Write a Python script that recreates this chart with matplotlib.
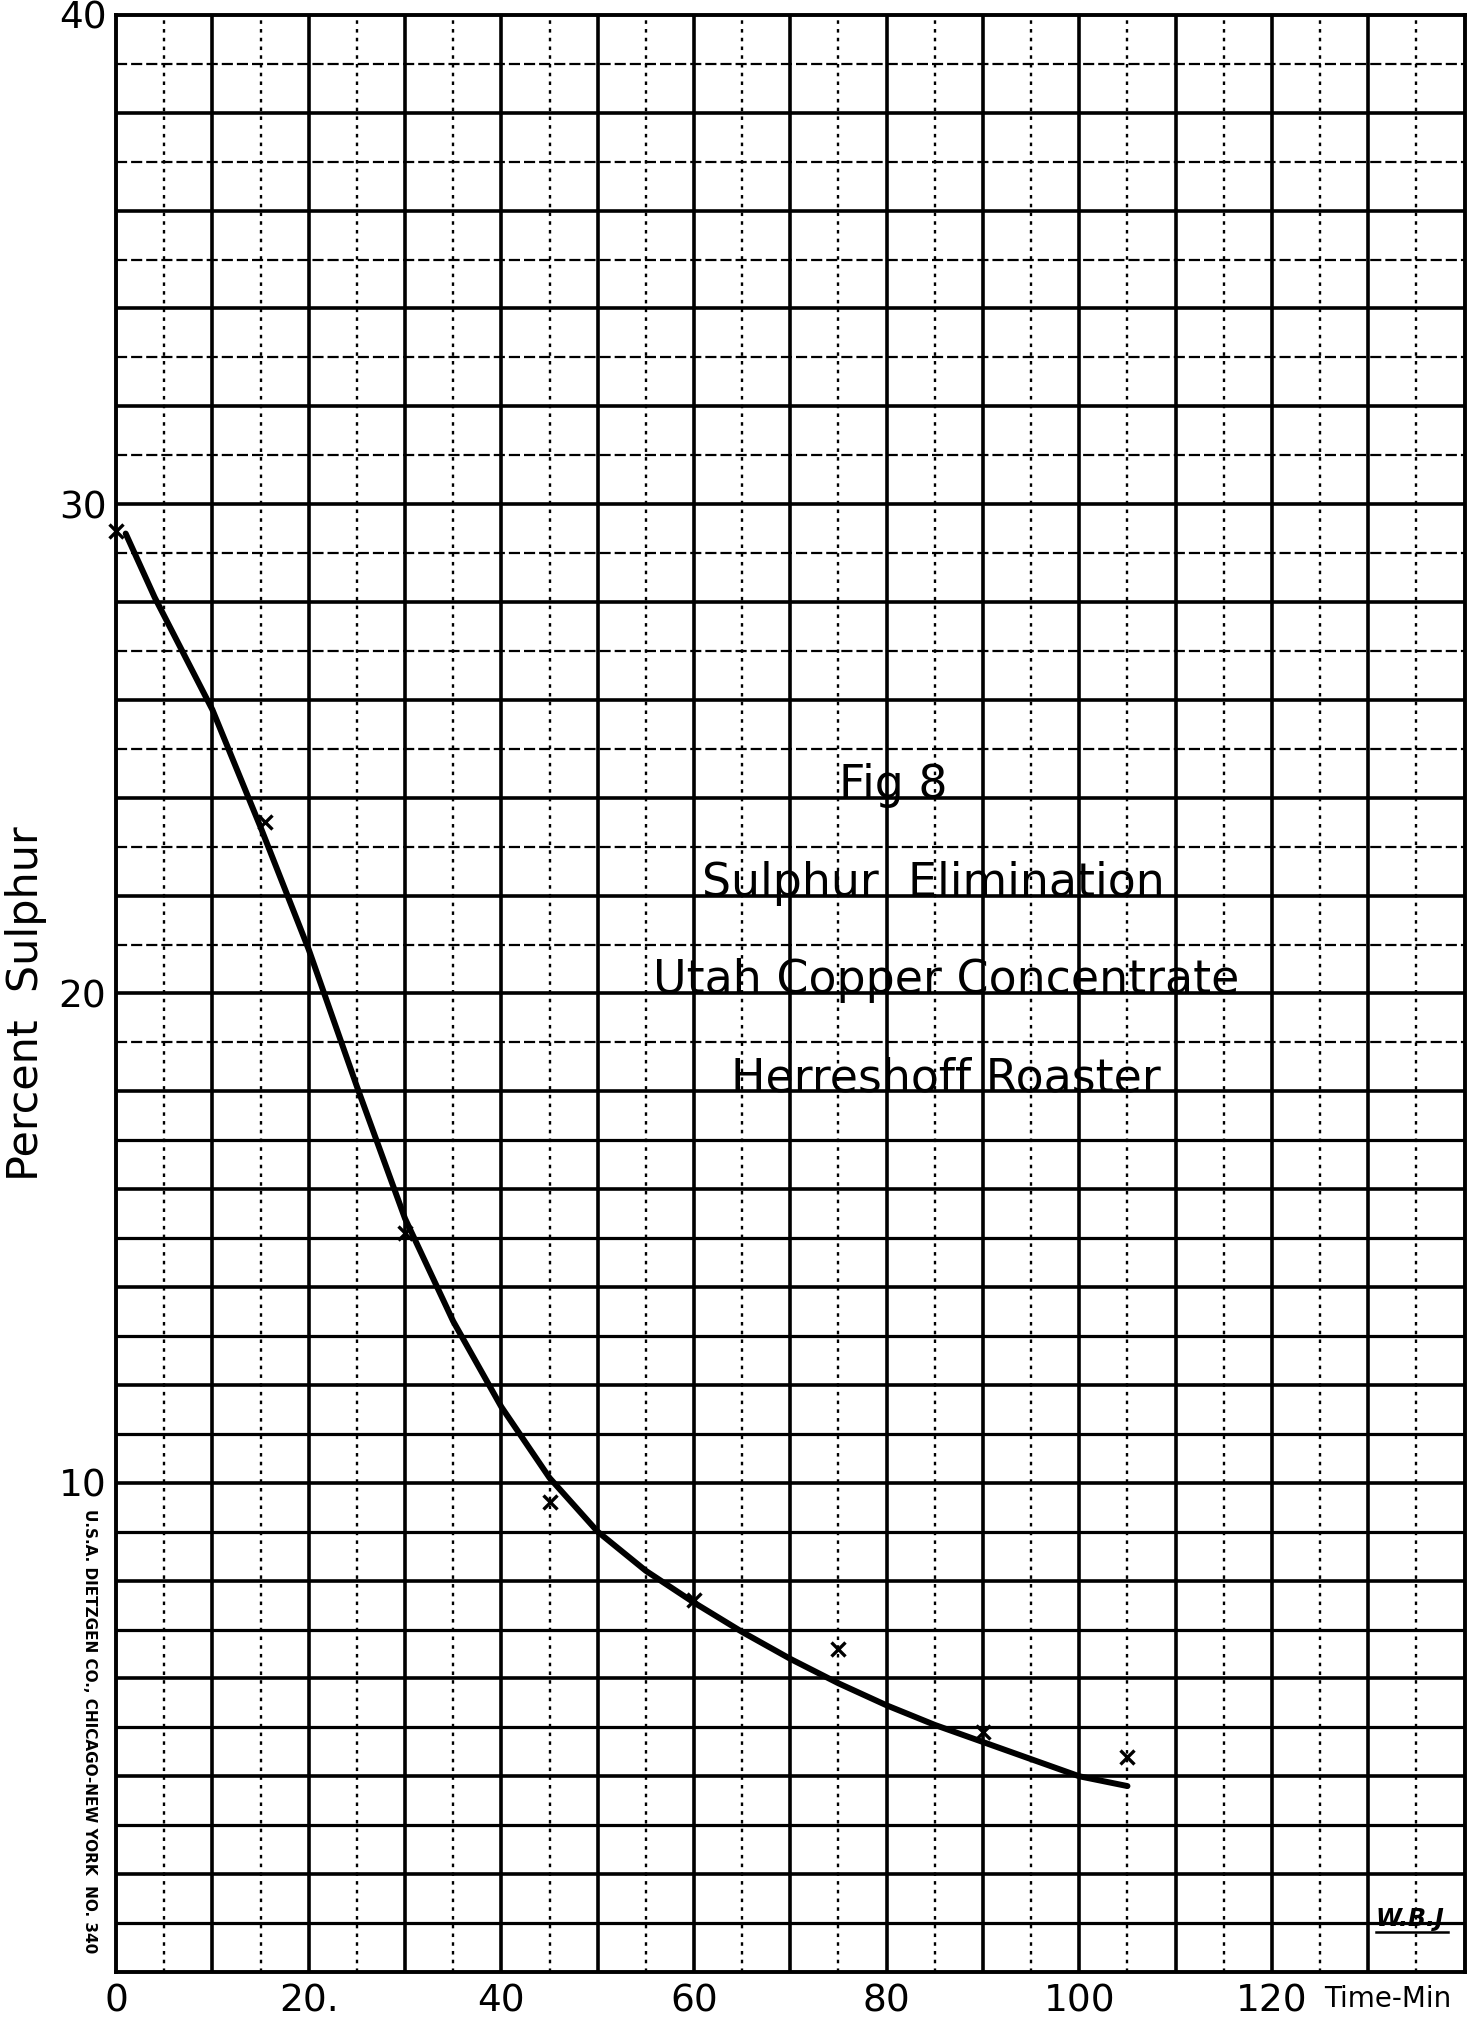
import matplotlib.pyplot as plt

# readings (percent sulphur vs time in minutes)
obs_x = [0, 15.5, 30, 45, 60, 75, 90, 105]
obs_y = [29.45, 23.5, 15.1, 9.6, 7.6, 6.6, 4.9, 4.4]

# smoothed curve as drawn on the sheet
curve_x = [1, 4, 10, 15, 20, 25, 30, 35, 40, 45, 50, 55, 60, 65, 70, 75, 80, 85, 90, 95, 100, 105]
curve_y = [29.4, 28.1, 25.8, 23.4, 20.9, 18.1, 15.4, 13.3, 11.55, 10.1, 9.0, 8.2, 7.55, 6.95,
           6.4, 5.9, 5.45, 5.05, 4.7, 4.35, 4.0, 3.8]

x_ticks = [0, 20, 40, 60, 80, 100, 120]
x_tick_labels = ['0', '20.', '40', '60', '80', '100', '120']
y_ticks = [10, 20, 30, 40]
y_tick_labels = ['10', '20', '30', '40']

title_lines = ['Fig 8', 'Sulphur  Elimination', 'Utah Copper Concentrate', 'Herreshoff Roaster']

plt.rcParams['font.family'] = ['DejaVu Sans']

fig = plt.figure(figsize=(14.69, 20.18), dpi=100)
ax = fig.add_axes([0.079, 0.0228, 0.918, 0.9698])
ax.set_xlim(0, 140)
ax.set_ylim(0, 40)

# graph paper
ax.vlines(range(10, 140, 10), 0, 40, colors='black', lw=2.6, zorder=1)
ax.vlines(range(5, 140, 10), 0, 40, colors='black', lw=1.7,
          linestyles=[(0, (1.5, 2.2))], zorder=1)
ax.hlines(range(2, 40, 2), 0, 140, colors='black', lw=2.6, zorder=1)
odd = list(range(1, 40, 2))
ax.hlines([v for v in odd if v <= 17], 0, 140, colors='black', lw=2.3, zorder=1)
ax.hlines([v for v in odd if v > 17], 0, 140, colors='black', lw=1.6,
          linestyles=[(0, (5, 1.8))], zorder=1)
for s in ax.spines.values():
    s.set_linewidth(2.8)

ax.plot(curve_x, curve_y, color='black', lw=4.3, solid_capstyle='round', zorder=5)
ax.plot(obs_x, obs_y, 'x', ms=10, mew=2.4, color='black', zorder=6, clip_on=False)

ax.set_xticks(x_ticks, x_tick_labels, fontsize=27)
ax.set_yticks(y_ticks, y_tick_labels, fontsize=27)
ax.tick_params(length=0)
ax.tick_params(axis='x', pad=8)
ax.tick_params(axis='y', pad=7)

ax.text(125.4, -0.55, 'Time-Min', fontsize=20, ha='left', va='center')

for txt, yb, xc in zip(title_lines, [24, 22, 20, 18], [80.7, 84.8, 86.2, 86.2]):
    ax.text(xc, yb, txt, fontsize=33, ha='center', va='baseline', zorder=7)

ax.text(134.3, 0.95, 'W.B.J', fontsize=17, fontstyle='italic', fontweight='bold',
        ha='center', va='baseline', zorder=7)
ax.plot([130.8, 138.3], [0.82, 0.82], color='black', lw=1.8)

fig.text(0.018, 0.5025, 'Percent  Sulphur', rotation=90, fontsize=31,
         ha='center', va='center')
fig.text(0.061, 0.142, 'U.S.A. DIETZGEN CO., CHICAGO-NEW YORK  NO. 340', rotation=-90,
         fontsize=11, fontweight='bold', ha='center', va='center')

fig.savefig('out.png', dpi=100, facecolor='white')
